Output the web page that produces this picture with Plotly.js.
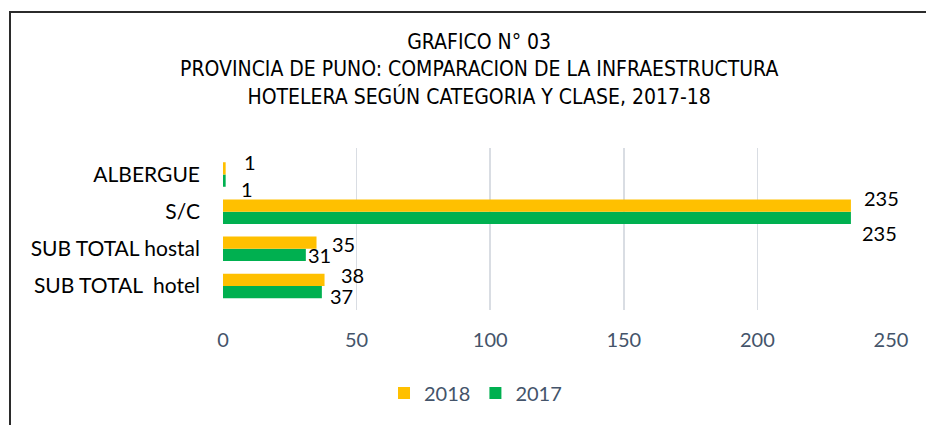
<!DOCTYPE html>
<html>
<head>
<meta charset="utf-8">
<script src="https://cdn.plot.ly/plotly-3.0.1.min.js"></script>
<style>
  html, body { margin: 0; padding: 0; background: #fff; }
  #wrap { position: relative; width: 926px; height: 425px; overflow: hidden; }
  #chart { width: 926px; height: 425px; }
  #frame { position: absolute; left: 9px; top: 11px; width: 940px; height: 440px;
           border-top: 2px solid #2b2b2b; border-left: 2px solid #2b2b2b; pointer-events: none; }
</style>
</head>
<body>
<div id="wrap">
  <div id="chart"></div>
  <div id="frame"></div>
</div>
<script>
const categories = ["SUB TOTAL  hotel", "SUB TOTAL hostal", "S/C", "ALBERGUE"];
const values2017 = [37, 31, 235, 1];
const values2018 = [38, 35, 235, 1];
const seriesNames = ["2017", "2018"];
const titleLines = [
  "GRAFICO N° 03",
  "PROVINCIA DE PUNO: COMPARACION DE LA INFRAESTRUCTURA",
  "HOTELERA SEGÚN CATEGORIA Y CLASE, 2017-18"
];
const xTicks = [0, 50, 100, 150, 200, 250];

// pixel nudges of the data labels (as placed in the original)
const nudge2018 = { dx: [27.5, 26.5, 31, 24], dy: [11.5, 4.5, 13.5, 12.5] };
const nudge2017 = { dx: [20, 14, 29, 21], dy: [-10, -6.5, -21, -14] };

const labelFont = { family: "Lato, 'Open Sans', sans-serif", size: 20, color: "#000000" };
const catFont = { family: "Lato, 'Open Sans', sans-serif", size: 21, color: "#000000" };
const tickFont = { family: "Lato, 'Open Sans', sans-serif", size: 20, color: "#44546A" };
const titleFont = { family: "'Liberation Sans Narrow', 'Arial Narrow', 'DejaVu Sans Condensed', sans-serif", size: 21, color: "#000000" };

const traces = [
  { type: "bar", orientation: "h", name: seriesNames[0], y: categories, x: values2017,
    marker: { color: "#00B050" }, hoverinfo: "none" },
  { type: "bar", orientation: "h", name: seriesNames[1], y: categories, x: values2018,
    marker: { color: "#FFC000" }, hoverinfo: "none" }
];

const annotations = [];
annotations.push({ text: titleLines.join("<br>"), xref: "paper", yref: "paper", x: 0.383, y: 1, yshift: 79,
  xanchor: "center", yanchor: "middle", align: "center", showarrow: false, font: titleFont });
categories.forEach((c, i) => {
  annotations.push({ text: String(values2018[i]), x: values2018[i], y: c, xref: "x", yref: "y",
    xshift: nudge2018.dx[i], yshift: nudge2018.dy[i], showarrow: false, font: labelFont });
  annotations.push({ text: String(values2017[i]), x: values2017[i], y: c, xref: "x", yref: "y",
    xshift: nudge2017.dx[i], yshift: nudge2017.dy[i], showarrow: false, font: labelFont });
});

const layout = {
  width: 926, height: 425,
  margin: { l: 223, r: 35, t: 148, b: 113, pad: 0 },
  paper_bgcolor: "rgba(0,0,0,0)", plot_bgcolor: "rgba(0,0,0,0)",
  barmode: "group", bargap: 0.34, bargroupgap: 0,
  showlegend: true,
  legend: { orientation: "h", x: 0.378, xanchor: "center", y: -0.512, yanchor: "middle",
            traceorder: "reversed", font: tickFont, itemwidth: 30 },
  xaxis: { range: [0, 250], tickvals: xTicks, showgrid: true, gridcolor: "#D9DDE3", gridwidth: 1.5,
           zeroline: false, showline: false, ticks: "", tickfont: tickFont, ticklen: 0,
           ticklabelstandoff: 16, fixedrange: true },
  yaxis: { type: "category", categoryorder: "array", categoryarray: categories,
           showgrid: false, zeroline: false, showline: false, ticks: "", ticklen: 0,
           ticklabelstandoff: 22, tickfont: catFont, automargin: false, fixedrange: true },
  annotations: annotations
};

Plotly.newPlot("chart", traces, layout, { displayModeBar: false, staticPlot: true });
</script>
</body>
</html>
